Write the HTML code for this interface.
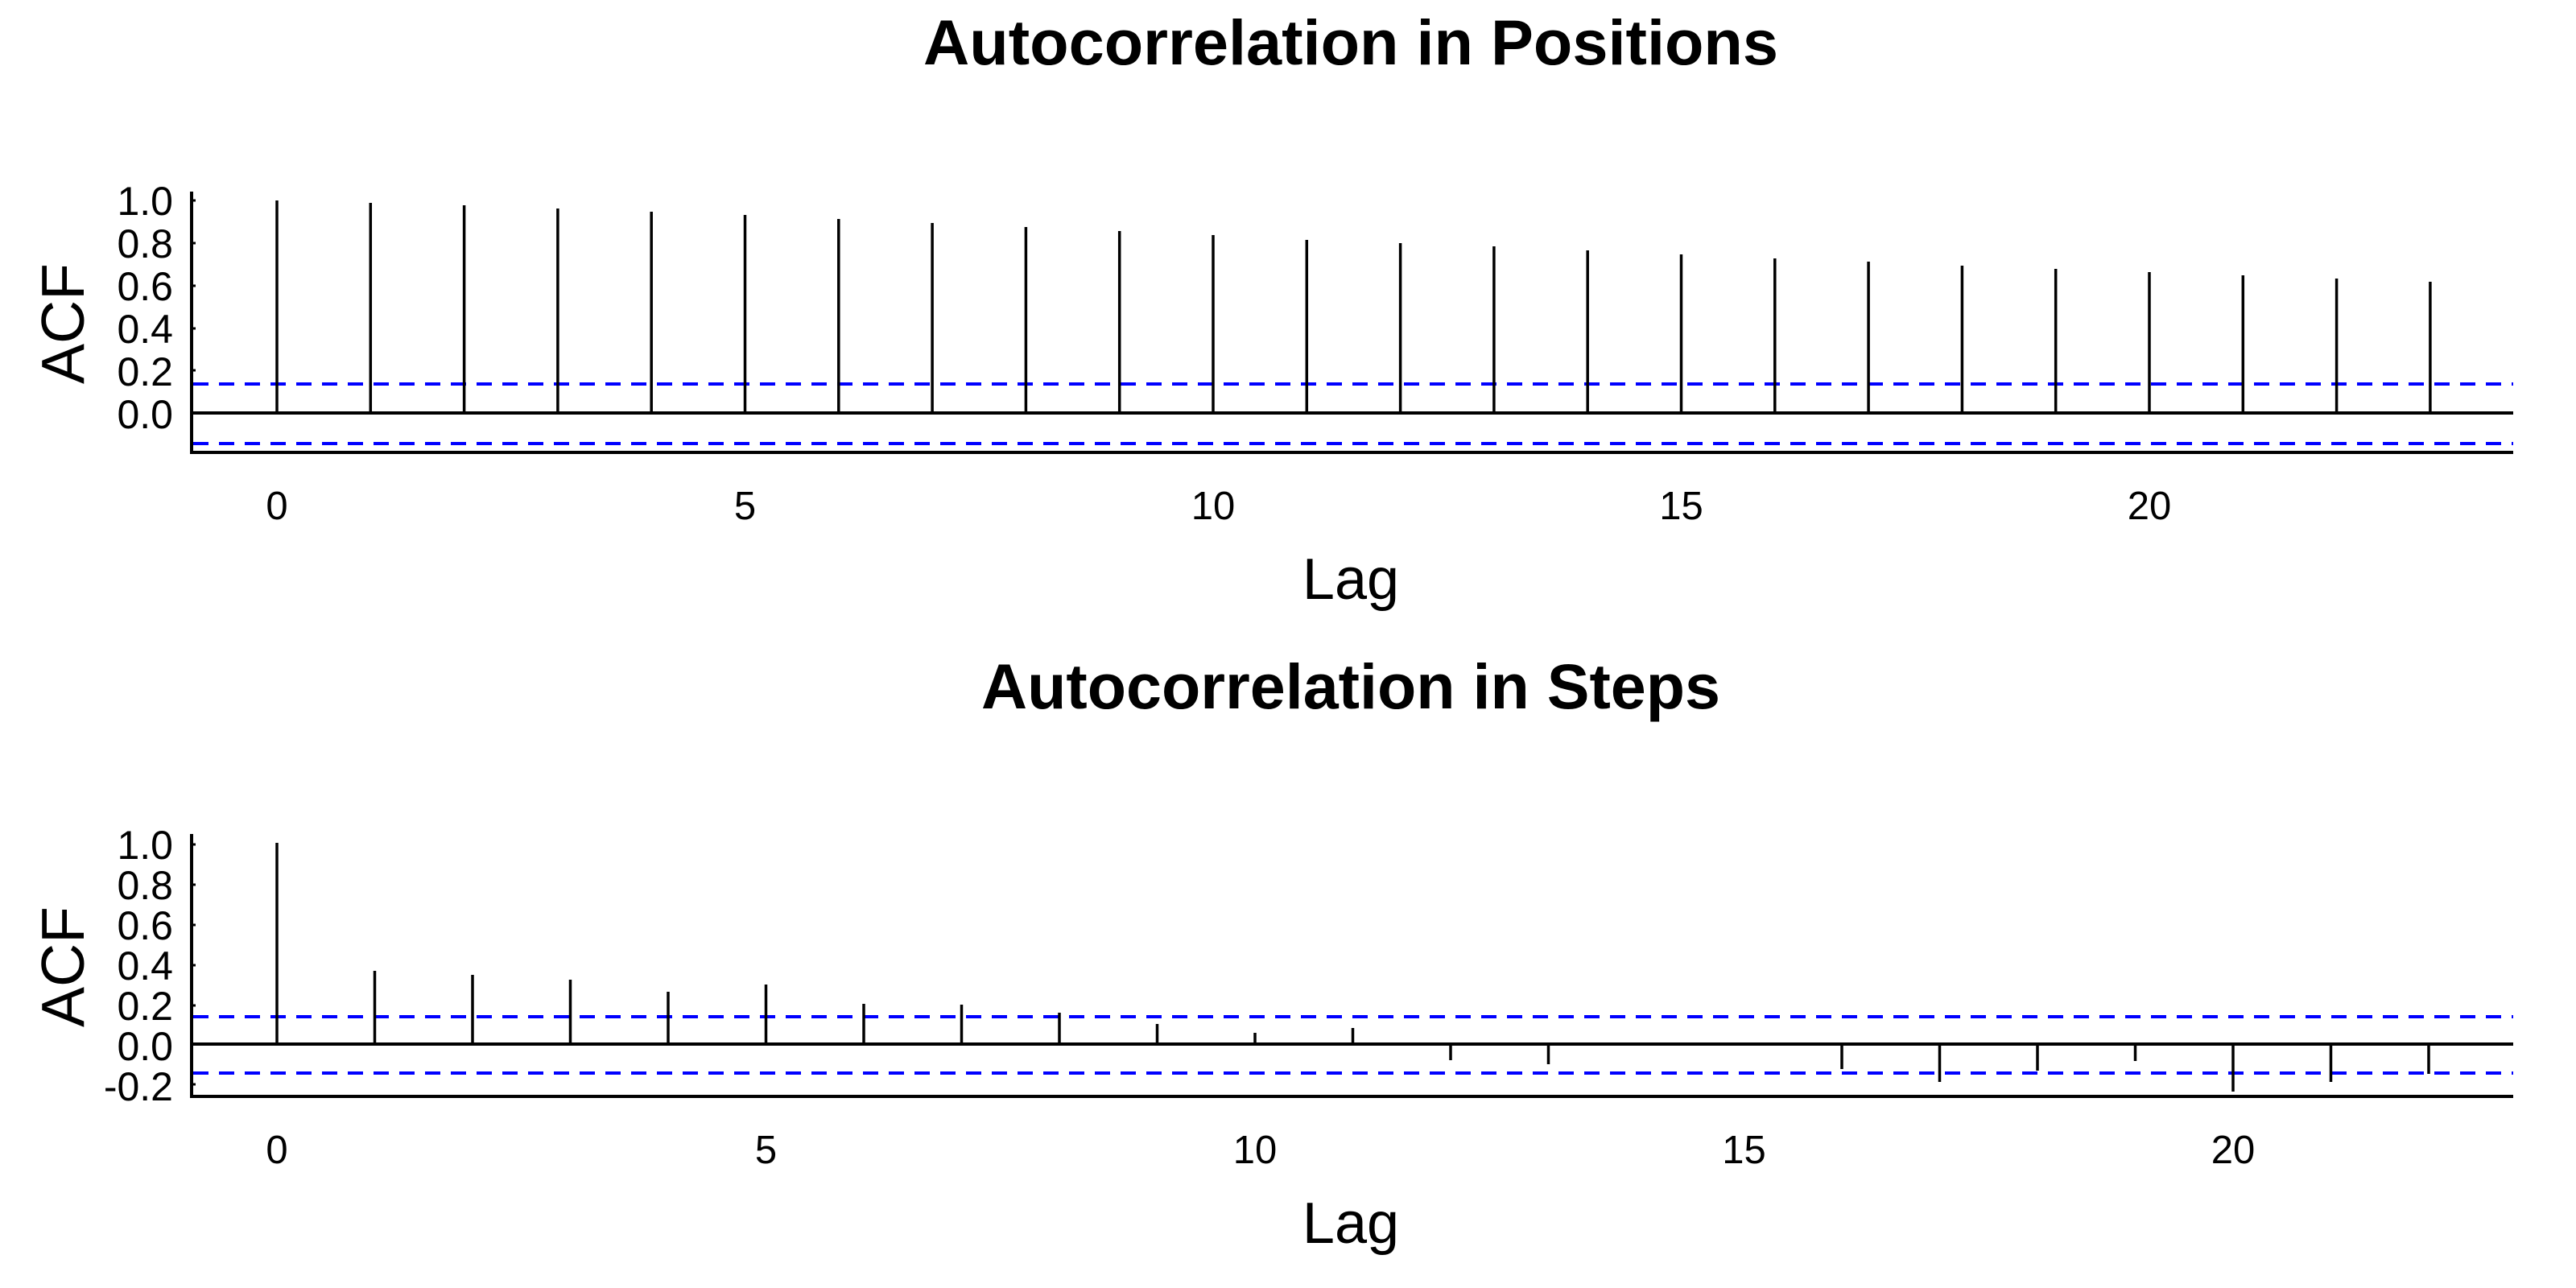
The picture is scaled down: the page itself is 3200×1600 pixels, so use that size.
<!DOCTYPE html>
<html><head><meta charset="utf-8"><style>
html,body{margin:0;padding:0;background:#fff;}
svg{display:block;}
text{font-family:"Liberation Sans",Arial,sans-serif;fill:#000;}
</style></head><body>
<svg width="3200" height="1600" viewBox="0 0 3200 1600" xmlns="http://www.w3.org/2000/svg">
<rect width="3200" height="1600" fill="#fff"/>
<!-- Titles -->
<text x="1678" y="80" font-size="79" font-weight="bold" text-anchor="middle" textLength="1062" lengthAdjust="spacingAndGlyphs">Autocorrelation in Positions</text>
<text x="1678" y="880" font-size="79" font-weight="bold" text-anchor="middle" textLength="918" lengthAdjust="spacingAndGlyphs">Autocorrelation in Steps</text>

<!-- ===== TOP PANEL ===== -->
<g id="top">
<line x1="238" y1="238" x2="238" y2="564" stroke="#000" stroke-width="4"/>
<line x1="236" y1="562" x2="3122" y2="562" stroke="#000" stroke-width="4"/>
<line x1="238" y1="513" x2="3122" y2="513" stroke="#000" stroke-width="4"/>
<line x1="240" y1="477" x2="3122" y2="477" stroke="#00f" stroke-width="4" stroke-dasharray="19,13"/>
<line x1="240" y1="551" x2="3122" y2="551" stroke="#00f" stroke-width="4" stroke-dasharray="19,13"/>
<g font-size="50" text-anchor="end">
<text x="215" y="267">1.0</text>
<text x="215" y="320">0.8</text>
<text x="215" y="373">0.6</text>
<text x="215" y="426">0.4</text>
<text x="215" y="479">0.2</text>
<text x="215" y="532">0.0</text>
</g>
<g stroke="#000" stroke-width="3">
<line x1="238" y1="249" x2="243" y2="249"/><line x1="238" y1="302" x2="243" y2="302"/>
<line x1="238" y1="355" x2="243" y2="355"/><line x1="238" y1="408" x2="243" y2="408"/>
<line x1="238" y1="460" x2="243" y2="460"/>
</g>
<g font-size="49" text-anchor="middle">
<text x="344" y="645">0</text>
<text x="925.5" y="645">5</text>
<text x="1507" y="645">10</text>
<text x="2088.5" y="645">15</text>
<text x="2670" y="645">20</text>
</g>
<text x="1678" y="744" font-size="72" text-anchor="middle">Lag</text>
<text transform="translate(104,402) rotate(-90)" font-size="75" text-anchor="middle">ACF</text>
<g stroke="#000" stroke-width="3.5" id="tstems"></g>
</g>

<!-- ===== BOTTOM PANEL ===== -->
<g id="bot">
<line x1="238" y1="1036" x2="238" y2="1364" stroke="#000" stroke-width="4"/>
<line x1="236" y1="1362" x2="3122" y2="1362" stroke="#000" stroke-width="4"/>
<line x1="238" y1="1297" x2="3122" y2="1297" stroke="#000" stroke-width="4"/>
<line x1="240" y1="1263" x2="3122" y2="1263" stroke="#00f" stroke-width="4" stroke-dasharray="19,13"/>
<line x1="240" y1="1333" x2="3122" y2="1333" stroke="#00f" stroke-width="4" stroke-dasharray="19,13"/>
<g font-size="50" text-anchor="end">
<text x="215" y="1067">1.0</text>
<text x="215" y="1117">0.8</text>
<text x="215" y="1167">0.6</text>
<text x="215" y="1217">0.4</text>
<text x="215" y="1267">0.2</text>
<text x="215" y="1317">0.0</text>
<text x="215" y="1367">-0.2</text>
</g>
<g stroke="#000" stroke-width="3">
<line x1="238" y1="1049" x2="243" y2="1049"/><line x1="238" y1="1099" x2="243" y2="1099"/>
<line x1="238" y1="1149" x2="243" y2="1149"/><line x1="238" y1="1199" x2="243" y2="1199"/>
<line x1="238" y1="1249" x2="243" y2="1249"/><line x1="238" y1="1347" x2="243" y2="1347"/>
</g>
<g font-size="49" text-anchor="middle">
<text x="344" y="1445">0</text>
<text x="951.5" y="1445">5</text>
<text x="1559" y="1445">10</text>
<text x="2166.5" y="1445">15</text>
<text x="2774" y="1445">20</text>
</g>
<text x="1678" y="1544" font-size="72" text-anchor="middle">Lag</text>
<text transform="translate(104,1201) rotate(-90)" font-size="75" text-anchor="middle">ACF</text>
</g>

<!-- stems top: x=344+116.3k, y0=513, scale 264 -->
<g stroke="#000" stroke-width="3.5">
<line x1="344" y1="513" x2="344" y2="249"/>
<line x1="460.3" y1="513" x2="460.3" y2="252"/>
<line x1="576.6" y1="513" x2="576.6" y2="255"/>
<line x1="692.9" y1="513" x2="692.9" y2="259"/>
<line x1="809.2" y1="513" x2="809.2" y2="263"/>
<line x1="925.5" y1="513" x2="925.5" y2="267"/>
<line x1="1041.8" y1="513" x2="1041.8" y2="272"/>
<line x1="1158.1" y1="513" x2="1158.1" y2="277"/>
<line x1="1274.4" y1="513" x2="1274.4" y2="282"/>
<line x1="1390.7" y1="513" x2="1390.7" y2="287"/>
<line x1="1507" y1="513" x2="1507" y2="292"/>
<line x1="1623.3" y1="513" x2="1623.3" y2="298"/>
<line x1="1739.6" y1="513" x2="1739.6" y2="302"/>
<line x1="1855.9" y1="513" x2="1855.9" y2="306"/>
<line x1="1972.2" y1="513" x2="1972.2" y2="311"/>
<line x1="2088.5" y1="513" x2="2088.5" y2="316"/>
<line x1="2204.8" y1="513" x2="2204.8" y2="321"/>
<line x1="2321.1" y1="513" x2="2321.1" y2="325"/>
<line x1="2437.4" y1="513" x2="2437.4" y2="330"/>
<line x1="2553.7" y1="513" x2="2553.7" y2="334"/>
<line x1="2670" y1="513" x2="2670" y2="338"/>
<line x1="2786.3" y1="513" x2="2786.3" y2="342"/>
<line x1="2902.6" y1="513" x2="2902.6" y2="346"/>
<line x1="3018.9" y1="513" x2="3018.9" y2="350"/>
</g>
<!-- stems bottom: x=344+121.5k, y0=1297, scale 250 -->
<g stroke="#000" stroke-width="3.5">
<line x1="344" y1="1297" x2="344" y2="1047"/>
<line x1="465.5" y1="1297" x2="465.5" y2="1206"/>
<line x1="587" y1="1297" x2="587" y2="1211"/>
<line x1="708.5" y1="1297" x2="708.5" y2="1217"/>
<line x1="830" y1="1297" x2="830" y2="1232"/>
<line x1="951.5" y1="1297" x2="951.5" y2="1223"/>
<line x1="1073" y1="1297" x2="1073" y2="1247"/>
<line x1="1194.5" y1="1297" x2="1194.5" y2="1248"/>
<line x1="1316" y1="1297" x2="1316" y2="1258"/>
<line x1="1437.5" y1="1297" x2="1437.5" y2="1272"/>
<line x1="1559" y1="1297" x2="1559" y2="1283"/>
<line x1="1680.5" y1="1297" x2="1680.5" y2="1277"/>
<line x1="1802" y1="1297" x2="1802" y2="1317"/>
<line x1="1923.5" y1="1297" x2="1923.5" y2="1322"/>
<line x1="2045" y1="1297" x2="2045" y2="1299"/>
<line x1="2166.5" y1="1297" x2="2166.5" y2="1299"/>
<line x1="2288" y1="1297" x2="2288" y2="1328"/>
<line x1="2409.5" y1="1297" x2="2409.5" y2="1344"/>
<line x1="2531" y1="1297" x2="2531" y2="1330"/>
<line x1="2652.5" y1="1297" x2="2652.5" y2="1318"/>
<line x1="2774" y1="1297" x2="2774" y2="1356"/>
<line x1="2895.5" y1="1297" x2="2895.5" y2="1344"/>
<line x1="3017" y1="1297" x2="3017" y2="1334"/>
</g>
</svg>
</body></html>
